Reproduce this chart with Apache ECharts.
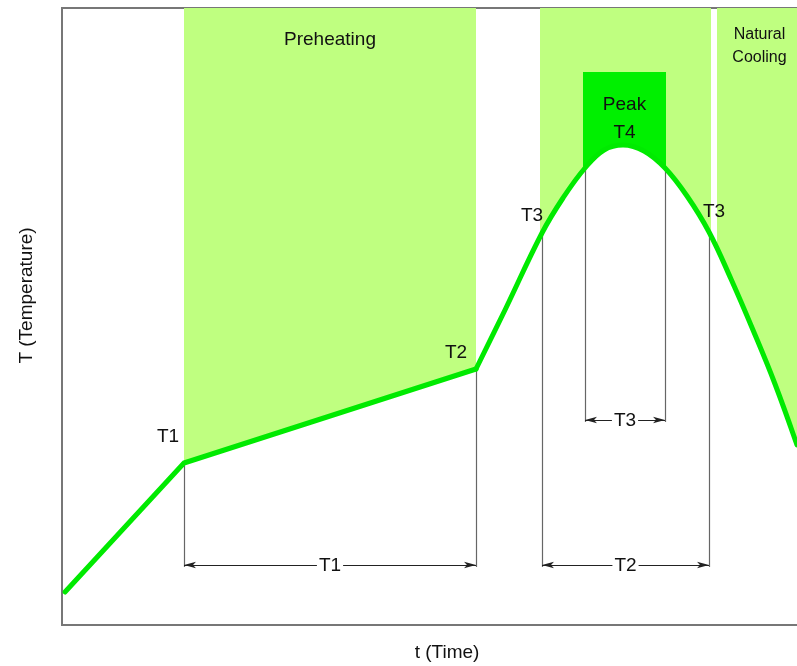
<!DOCTYPE html>
<html>
<head>
<meta charset="utf-8">
<script src="https://cdn.jsdelivr.net/npm/echarts@6/dist/echarts.min.js"></script>
<style>html,body{margin:0;padding:0;background:#fff;}#c{width:797px;height:666px;}</style>
</head>
<body>
<div id="c"></div>
<script>
// Ramp (linear) part of the profile: time, temperature (arbitrary units)
const rampTime = [3, 122, 414];
const rampTemp = [33, 162, 256];
// Smooth part: reflow peak and cooling
const curveTime = [414, 443, 480, 501, 523, 542, 561, 582, 603, 625, 647, 669, 691, 713, 735];
const curveTemp = [256, 315, 392, 427, 457, 475, 480, 474, 457, 429, 393, 346, 295, 241, 180];
// Stage boundaries (time)
const preheatRange = [122, 414];
const solderRange = [478, 649];
const peakRange = [521, 604];
const coolRange = [655, 740];
const peakTop = 553;
// Dimension levels (temperature)
const dimLowLevel = 60;
const dimPeakLevel = 205;
const stageNames = ['Preheating', 'Soldering', 'Natural\nCooling', 'Peak\nT4'];
const pointNames = ['T1', 'T2', 'T3', 'T3'];
const dimNames = ['T1', 'T2', 'T3'];

const X_MAX = 740, Y_MAX = 617;
const light = '#bfff80', dark = '#00f000', lineGreen = '#00ea00';
const font = "'Liberation Sans', Arial, sans-serif";

const ramp = rampTime.map((t, i) => [t, rampTemp[i]]);
const curve = curveTime.map((t, i) => [t, curveTemp[i]]);

const dimStyle = {color: '#222', width: 1, type: 'solid'};
const extStyle = {color: '#666', width: 1.2, type: 'solid'};
function dimLine(x1, x2, y, name) {
  return [{coord: [x1, y], lineStyle: dimStyle,
           label: {show: true, formatter: name, position: 'middle', color: '#111', fontSize: 19, fontFamily: font,
                   backgroundColor: '#fff', padding: [0, 2], distance: -10}},
          {coord: [x2, y]}];
}
function extLine(x, yTop, yBot) {
  return [{coord: [x, yTop], lineStyle: extStyle, symbol: 'none', label: {show: false}}, {coord: [x, yBot], symbol: 'none'}];
}

const option = {
  animation: false,
  grid: {left: 62, top: 8, width: X_MAX, height: Y_MAX, outerBoundsMode: 'none', containLabel: false,
         show: true, borderColor: '#777', borderWidth: 2, backgroundColor: 'transparent'},
  xAxis: {type: 'value', min: 0, max: X_MAX, axisLine: {show: false}, axisTick: {show: false}, axisLabel: {show: false}, splitLine: {show: false},
          name: 't (Time)', nameLocation: 'middle', nameGap: 18,
          nameTextStyle: {fontSize: 19, color: '#111', fontFamily: font, padding: [0, 0, 0, 30]}},
  yAxis: {type: 'value', min: 0, max: Y_MAX, axisLine: {show: false}, axisTick: {show: false}, axisLabel: {show: false}, splitLine: {show: false},
          name: 'T (Temperature)', nameLocation: 'middle', nameGap: 26,
          nameTextStyle: {fontSize: 19, color: '#111', fontFamily: font, padding: [0, 0, 0, 42]}},
  visualMap: {type: 'piecewise', show: false, dimension: 0, seriesIndex: 1,
    pieces: [
      {gte: solderRange[0], lt: peakRange[0], color: light},
      {gte: peakRange[0], lte: peakRange[1], color: dark},
      {gt: peakRange[1], lte: solderRange[1], color: light},
      {gte: coolRange[0], lte: coolRange[1], color: light}
    ],
    outOfRange: {color: 'rgba(255,255,255,0)'}},
  series: [
    { // preheating fill + stage labels
      type: 'line', data: ramp.slice(1), showSymbol: false, z: 1,
      lineStyle: {width: 0}, areaStyle: {origin: 'end', color: light, opacity: 1}, silent: true,
      markArea: {silent: true, z: 1, itemStyle: {color: 'rgba(0,0,0,0)'},
        label: {position: 'insideTop', fontSize: 19, color: '#111', fontFamily: font},
        data: [
          [{name: stageNames[0], xAxis: preheatRange[0], yAxis: 0, label: {distance: 22}}, {xAxis: preheatRange[1], yAxis: Y_MAX}],
          [{name: stageNames[1], xAxis: solderRange[0], yAxis: 0, label: {distance: 17}}, {xAxis: solderRange[1], yAxis: Y_MAX}],
          [{name: stageNames[2], xAxis: coolRange[0], yAxis: 0, label: {fontSize: 16, lineHeight: 23, distance: 15}}, {xAxis: coolRange[1], yAxis: Y_MAX}]
        ]}
    },
    { // soldering / peak / cooling fill
      type: 'line', data: curve, smooth: 0.4, showSymbol: false, z: 1,
      lineStyle: {width: 0}, areaStyle: {origin: 'end', opacity: 1}, silent: true
    },
    { // dimension lines
      type: 'line', data: ramp, z: 2, silent: true, showSymbol: false, lineStyle: {width: 0},
      markLine: {silent: true, z: 2, symbol: ['arrow', 'arrow'], symbolSize: [5, 12],
        data: [
          extLine(preheatRange[0], rampTemp[1], dimLowLevel - 2),
          extLine(preheatRange[1], rampTemp[2], dimLowLevel - 2),
          extLine(curveTime[2], curveTemp[2], dimLowLevel - 2),
          extLine(curveTime[10], curveTemp[10], dimLowLevel - 2),
          extLine(curveTime[4], curveTemp[4], dimPeakLevel - 2),
          extLine(curveTime[8], curveTemp[8], dimPeakLevel - 2),
          dimLine(rampTime[1], rampTime[2], dimLowLevel, dimNames[0]),
          dimLine(curveTime[2], curveTime[10], dimLowLevel, dimNames[1]),
          dimLine(curveTime[4], curveTime[8], dimPeakLevel, dimNames[2])
        ]}
    },
    { // ramp line
      type: 'line', data: ramp, showSymbol: false, z: 3, silent: true,
      lineStyle: {color: lineGreen, width: 5, cap: 'round', join: 'round'},
      markArea: {silent: true, z: 2, itemStyle: {color: light},
        label: {position: 'bottom', fontSize: 19, lineHeight: 28, color: '#111', fontFamily: font, distance: 19},
        data: [[{name: stageNames[3], xAxis: peakRange[0], yAxis: peakTop}, {xAxis: peakRange[1], yAxis: Y_MAX}]]},
      markPoint: {symbol: 'circle', symbolSize: 0, silent: true,
        label: {fontSize: 19, color: '#111', fontFamily: font, align: 'center', verticalAlign: 'middle'},
        data: [
          {coord: ramp[1], label: {formatter: pointNames[0], position: [-16, -26]}},
          {coord: ramp[2], label: {formatter: pointNames[1], position: [-20, -16]}}
        ]}
    },
    { // reflow curve
      type: 'line', data: curve, smooth: 0.4, showSymbol: false, z: 3, silent: true,
      lineStyle: {color: lineGreen, width: 5, cap: 'round', join: 'round'},
      markPoint: {symbol: 'circle', symbolSize: 0, silent: true,
        label: {fontSize: 19, color: '#111', fontFamily: font, align: 'center', verticalAlign: 'middle'},
        data: [
          {coord: curve[2], label: {formatter: pointNames[2], position: [-10, -17]}},
          {coord: curve[10], label: {formatter: pointNames[3], position: [5, -20]}}
        ]}
    }
  ]
};
const chart = echarts.init(document.getElementById('c'));
chart.setOption(option);
</script>
</body>
</html>
